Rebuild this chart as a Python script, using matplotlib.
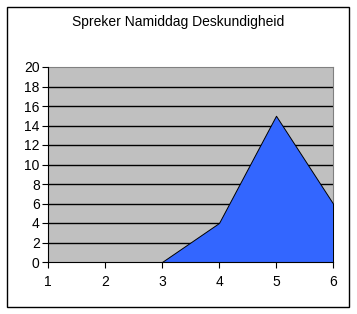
import matplotlib
matplotlib.use('Agg')
import matplotlib.pyplot as plt
from matplotlib.patches import Rectangle

plt.rcParams['font.family'] = ['Liberation Sans', 'DejaVu Sans']

x = [1, 2, 3, 4, 5, 6]
y = [0, 0, 0, 4, 15, 6]
yticks = list(range(0, 21, 2))

W, H = 357, 314
fig = plt.figure(figsize=(W / 100, H / 100), dpi=100)
fig.patch.set_facecolor('white')

# outer chart border
fig.patches.append(Rectangle((7 / W, (H - 307) / H), 342 / W, 300 / H,
                             transform=fig.transFigure, fill=False,
                             edgecolor='black', linewidth=1.0))

ax = fig.add_axes([48 / W, (H - 262) / H, 285 / W, 195 / H])
ax.set_facecolor('#C0C0C0')
ax.fill_between(x, y, 0, facecolor='#3366FF', edgecolor='black',
                linewidth=0.7, zorder=3)

ax.set_xlim(1, 6)
ax.set_ylim(0, 20)
ax.set_xticks(x)
ax.set_yticks(yticks)
for t in yticks[1:-1]:
    ax.axhline(t, color='black', linewidth=1.0, zorder=1)

for side in ['top', 'right']:
    ax.spines[side].set_color('#808080')
for side in ['left', 'bottom']:
    ax.spines[side].set_color('black')
    ax.spines[side].set_zorder(4)

ax.tick_params(axis='both', direction='out', length=4, width=0.8,
               labelsize=10, colors='black')
ax.tick_params(axis='x', pad=5)
ax.tick_params(axis='y', pad=2)

fig.text(178 / W, 1 - 22 / H, 'Spreker Namiddag Deskundigheid',
         ha='center', va='center', fontsize=10)

fig.savefig('out.png', dpi=100)
